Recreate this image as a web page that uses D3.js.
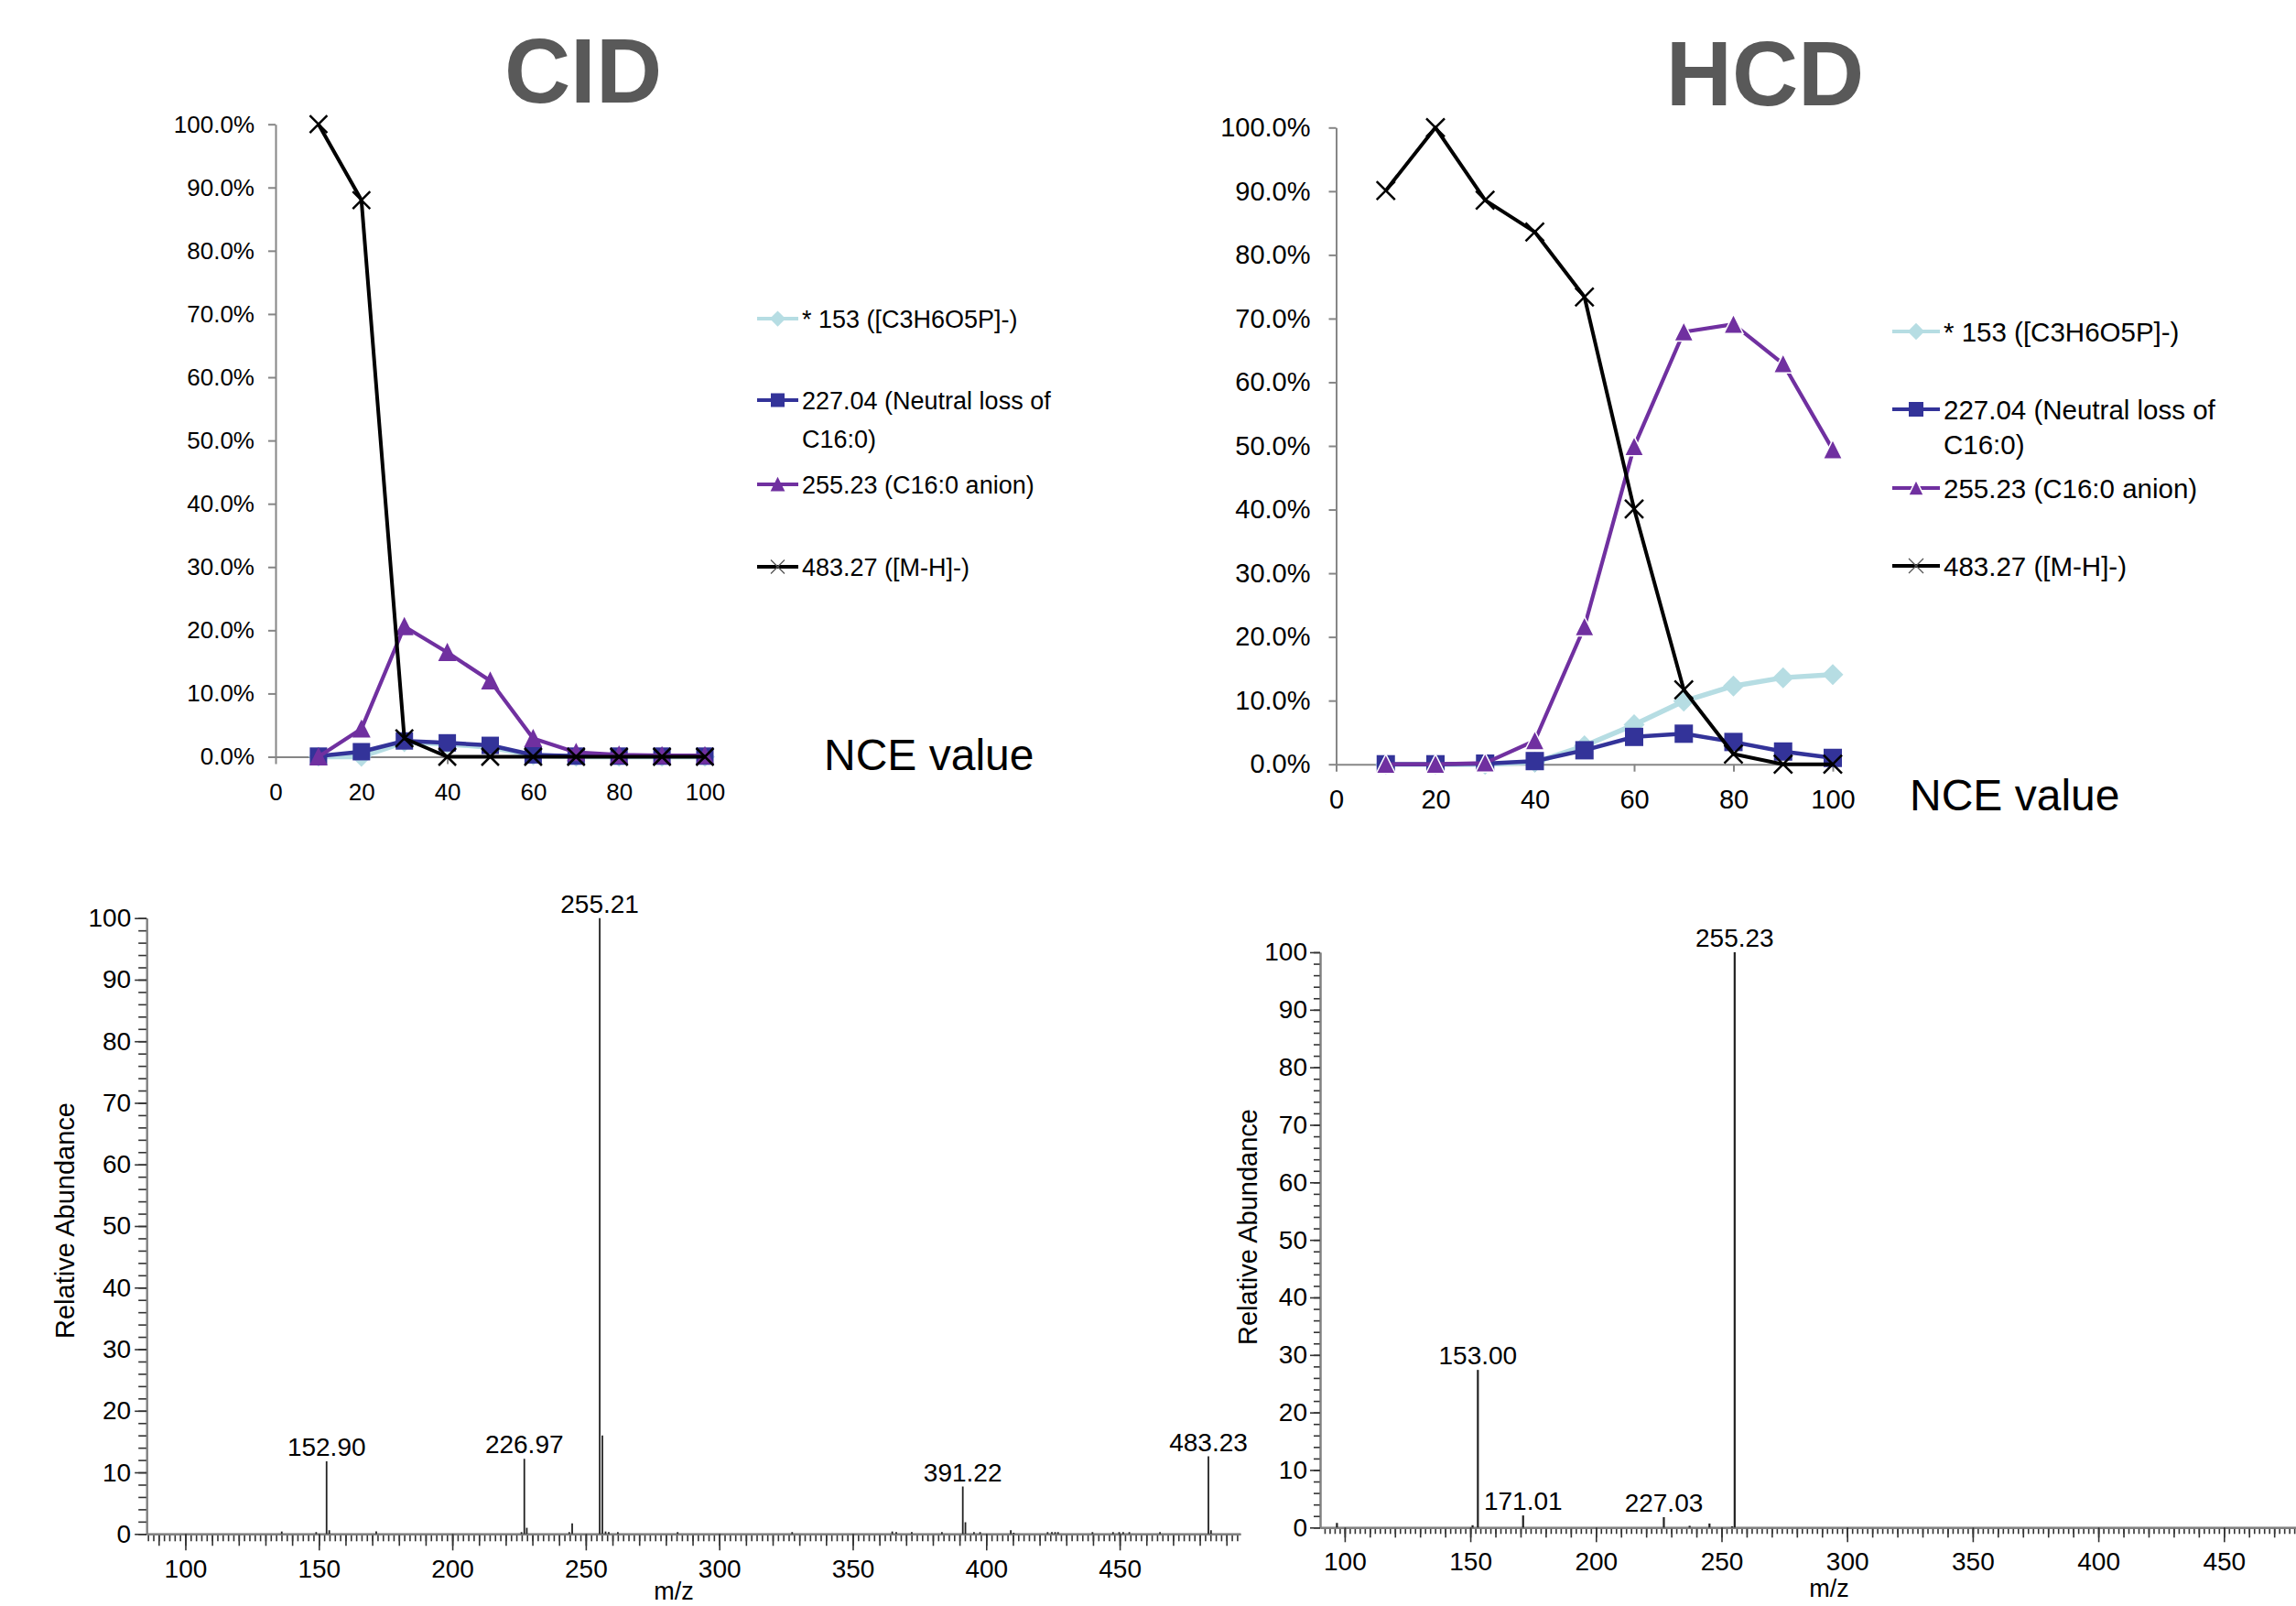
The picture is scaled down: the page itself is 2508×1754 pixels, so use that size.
<!DOCTYPE html>
<html>
<head>
<meta charset="utf-8">
<script src="https://cdn.jsdelivr.net/npm/d3@7"></script>
<style>
  body { margin: 0; background: #fff; }
  svg { display: block; font-family: "Liberation Sans", Arial, sans-serif; }
</style>
</head>
<body>
<svg id="figure" width="2508" height="1754"></svg>
<script>
// breakdown curves (% of total ion signal vs NCE)
const nce = [10, 20, 30, 40, 50, 60, 70, 80, 90, 100]
const nceTicks = [0, 20, 40, 60, 80, 100]
const percentTicks = [0, 10, 20, 30, 40, 50, 60, 70, 80, 90, 100]
const ionNames = ['* 153 ([C3H6O5P]-)', '227.04 (Neutral loss of|C16:0)', '255.23 (C16:0 anion)', '483.27 ([M-H]-)']

const cid153 = [0, 0, 2.3, 2.0, 1.5, 0.2, 0, 0, 0, 0]
const cid227 = [0.1, 0.8, 2.5, 2.2, 1.8, 0.3, 0.1, 0.1, 0.1, 0.1]
const cid255 = [0, 4.4, 20.6, 16.5, 12.0, 2.9, 0.7, 0.3, 0.2, 0.2]
const cid483 = [100, 88, 2.9, 0, 0, 0, 0, 0, 0, 0]

const hcd153 = [0, 0, 0, 0.3, 2.9, 6.2, 9.9, 12.3, 13.6, 14.1]
const hcd227 = [0, 0, 0.1, 0.5, 2.2, 4.3, 4.8, 3.5, 2.0, 1.0]
const hcd255 = [0, 0, 0.2, 3.7, 21.6, 49.9, 67.9, 69.1, 62.9, 49.4]
const hcd483 = [90.1, 100, 88.6, 83.6, 73.4, 40.1, 11.7, 1.6, 0, 0]

// MS/MS spectra (m/z, relative abundance)
const cidMz = [136.1, 149.0, 152.90, 153.9, 171.5, 225.9, 226.97, 227.9, 243.8, 244.9, 255.21, 256.2, 257.4, 258.6, 262.0,
  284.4, 327.3, 364.8, 366.3, 372.1, 383.4, 391.22, 392.2, 395.4, 397.7, 409.2, 410.3, 423.0, 424.6, 425.8, 426.9,
  439.8, 447.5, 449.8, 451.3, 453.6, 465.1, 483.23, 484.2]
const cidAbundance = [0.4, 0.3, 11.8, 0.6, 0.4, 0.3, 12.2, 1.0, 0.3, 1.7, 100, 16.0, 0.4, 0.3, 0.3,
  0.3, 0.3, 0.4, 0.3, 0.3, 0.3, 7.7, 1.9, 0.3, 0.3, 0.6, 0.2, 0.3, 0.3, 0.3, 0.3,
  0.3, 0.3, 0.3, 0.3, 0.3, 0.3, 12.6, 0.6]
const cidLabelMz = [152.90, 226.97, 255.21, 391.22, 483.23]

const hcdMz = [96.9, 150.9, 153.00, 171.01, 227.03, 237.3, 245.2, 254.2, 255.23]
const hcdAbundance = [0.8, 0.4, 27.4, 2.1, 1.8, 0.3, 0.7, 0.2, 100]
const hcdLabelMz = [153.00, 171.01, 227.03, 255.23]

const mzTicks = [100, 150, 200, 250, 300, 350, 400, 450]
const abundanceTicks = [0, 10, 20, 30, 40, 50, 60, 70, 80, 90, 100]

const svg = d3.select('#figure')

const seriesStyle = [
  {color: '#b6dde3', marker: 'diamond', width: 5.5},
  {color: '#333399', marker: 'square', width: 4.5},
  {color: '#7030a0', marker: 'triangle', width: 4.2},
  {color: '#000000', marker: 'cross', width: 4}
]

const markerPath = {
  diamond: r => `M0,${-r * 1.15}L${r * 1.15},0L0,${r * 1.15}L${-r * 1.15},0Z`,
  square: r => `M${-r},${-r}H${r}V${r}H${-r}Z`,
  triangle: r => `M0,${-r * 1.1}L${r * 1.05},${r}L${-r * 1.05},${r}Z`,
  cross: r => `M${-r},${-r}L${r},${r}M${-r},${r}L${r},${-r}`
}

function styleMarker(sel, st, outline){
  if (st.marker === 'cross') {
    sel.attr('fill', 'none').attr('stroke', st.color).attr('stroke-width', 2.5)
  } else {
    sel.attr('fill', st.color)
      .attr('stroke', outline && st.marker === 'triangle' ? '#fff' : 'none')
      .attr('stroke-width', 1.5)
  }
}

function drawCurves(p, series){
  const g = svg.append('g')
  const x = d3.scaleLinear().domain([0, 100]).range([p.left, p.right])
  const y = d3.scaleLinear().domain([0, 100]).range([p.bottom, p.top])

  g.append('g').attr('transform', `translate(${p.left},0)`)
    .call(d3.axisLeft(y).tickValues(percentTicks).tickSize(8).tickSizeOuter(0)
      .tickPadding(p.yPad).tickFormat(d => d.toFixed(1) + '%'))
  g.append('g').attr('transform', `translate(0,${p.bottom})`)
    .call(d3.axisBottom(x).tickValues(nceTicks).tickSize(8).tickSizeOuter(0).tickPadding(p.xPad))
  g.selectAll('.domain, .tick line').attr('stroke', '#868686').attr('stroke-width', 2)
  g.selectAll('.tick text').attr('font-size', p.font).attr('font-family', null).attr('fill', '#000')

  series.forEach((vals, i) => {
    const st = seriesStyle[i]
    const pts = nce.map((n, j) => [x(n), y(vals[j])])
    g.append('path').attr('d', d3.line()(pts)).attr('fill', 'none')
      .attr('stroke', st.color).attr('stroke-width', st.width).attr('stroke-linejoin', 'round')
    g.selectAll(null).data(pts).join('path')
      .attr('transform', d => `translate(${d})`)
      .attr('d', markerPath[st.marker](p.marker))
      .call(styleMarker, st, p.outline)
  })

  // legend
  ionNames.forEach((name, i) => {
    const st = seriesStyle[i]
    const ly = p.legendRows[i]
    g.append('line').attr('x1', p.legendX[0]).attr('x2', p.legendX[1]).attr('y1', ly).attr('y2', ly)
      .attr('stroke', st.color).attr('stroke-width', 4)
    const m = g.append('path').attr('transform', `translate(${(p.legendX[0] + p.legendX[1]) / 2},${ly})`)
      .attr('d', markerPath[st.marker](p.legendMarker))
    if (st.marker === 'cross') m.attr('fill', 'none').attr('stroke', '#555').attr('stroke-width', 1.3)
    else styleMarker(m, st, p.outline)
    const t = g.append('text').attr('x', p.legendX[1] + 4).attr('y', ly).attr('font-size', p.legendFont)
    name.split('|').forEach((line, k) => {
      t.append('tspan').attr('x', p.legendX[1] + 4).attr('dy', k === 0 ? '0.36em' : p.legendLineGap).text(line)
    })
  })

  svg.append('text').attr('x', p.titleX).attr('y', p.titleY).attr('text-anchor', 'middle')
    .attr('font-size', 100).attr('font-weight', 'bold').attr('fill', '#595959').text(p.title)
  svg.append('text').attr('x', p.nceX).attr('y', p.nceY).attr('font-size', 48).text('NCE value')
}

function drawSpectrum(p, mz, abundance, labelMz){
  const g = svg.append('g')
  const x = d3.scaleLinear().domain(p.mzRange).range([p.left, p.right])
  const y = d3.scaleLinear().domain([0, 100]).range([p.bottom, p.top])
  const inside = v => v >= p.mzRange[0] && v <= p.mzRange[1]

  // tick layers: minor, medium, major
  g.append('g').attr('transform', `translate(${p.left},0)`)
    .call(d3.axisLeft(y).tickValues(d3.range(0, 101, 2)).tickSize(p.yMinor).tickSizeOuter(0).tickFormat(''))
  g.append('g').attr('transform', `translate(0,${p.bottom})`)
    .call(d3.axisBottom(x).tickValues(d3.range(86, 500, 2).filter(inside)).tickSize(p.xTicks[0]).tickSizeOuter(0).tickFormat(''))
  g.append('g').attr('transform', `translate(0,${p.bottom})`)
    .call(d3.axisBottom(x).tickValues(d3.range(90, 500, 10).filter(inside)).tickSize(p.xTicks[1]).tickSizeOuter(0).tickFormat(''))
  g.append('g').attr('transform', `translate(${p.left},0)`)
    .call(d3.axisLeft(y).tickValues(abundanceTicks).tickSize(p.yMajor).tickSizeOuter(0).tickPadding(p.yPad))
  g.append('g').attr('transform', `translate(0,${p.bottom})`)
    .call(d3.axisBottom(x).tickValues(mzTicks).tickSize(p.xTicks[2]).tickSizeOuter(0).tickPadding(p.xPad))
  g.selectAll('.tick line').attr('stroke', '#333').attr('stroke-width', 1.6)
  g.selectAll('.domain').attr('stroke', '#808080').attr('stroke-width', 2)
  g.selectAll('.tick text').attr('font-size', 28).attr('font-family', null).attr('fill', '#000')

  g.selectAll('line.peak').data(mz.map((m, i) => [m, abundance[i]])).join('line')
    .attr('class', 'peak')
    .attr('x1', d => x(d[0])).attr('x2', d => x(d[0]))
    .attr('y1', y(0)).attr('y2', d => y(d[1]))
    .attr('stroke', '#222').attr('stroke-width', p.peakWidth)

  g.selectAll('text.peak-label').data(labelMz).join('text')
    .attr('class', 'peak-label')
    .attr('x', d => x(d)).attr('y', d => y(abundance[mz.indexOf(d)]) - 6)
    .attr('text-anchor', 'middle').attr('font-size', 28)
    .text(d => d.toFixed(2))

  g.append('text').attr('transform', `translate(${p.yTitle[0]},${p.yTitle[1]}) rotate(-90)`)
    .attr('text-anchor', 'middle').attr('font-size', 29).text('Relative Abundance')
  g.append('text').attr('x', p.xTitle[0]).attr('y', p.xTitle[1])
    .attr('text-anchor', 'middle').attr('font-size', 27).text('m/z')
}

drawCurves({
  title: 'CID', titleX: 637, titleY: 112, nceX: 900, nceY: 841,
  left: 301, right: 770, top: 135.7, bottom: 826.5,
  font: 26, yPad: 15, xPad: 21, marker: 9.5, outline: false,
  legendX: [827, 872], legendRows: [348, 437, 529, 619], legendFont: 27, legendLineGap: 42, legendMarker: 7.5
}, [cid153, cid227, cid255, cid483])

drawCurves({
  title: 'HCD', titleX: 1928, titleY: 115, nceX: 2086, nceY: 885,
  left: 1459.5, right: 2002, top: 139.3, bottom: 834.7,
  font: 29, yPad: 20, xPad: 20, marker: 10, outline: true,
  legendX: [2067, 2119], legendRows: [362, 447, 533, 618], legendFont: 29.5, legendLineGap: 38, legendMarker: 8
}, [hcd153, hcd227, hcd255, hcd483])

drawSpectrum({
  mzRange: [85.5, 495.2], left: 160.2, right: 1354.9, top: 1002.7, bottom: 1675.3,
  yMajor: 13, yMinor: 9, yPad: 4, xTicks: [8, 13, 18], xPad: 9.5, peakWidth: 1.8,
  yTitle: [81, 1333], xTitle: [736, 1747]
}, cidMz, cidAbundance, cidLabelMz)

drawSpectrum({
  mzRange: [90.2, 500], left: 1442, right: 2566.5, top: 1040, bottom: 1668.3,
  yMajor: 11, yMinor: 7, yPad: 3, xTicks: [7, 11, 16], xPad: 10.5, peakWidth: 2.2,
  yTitle: [1373, 1340], xTitle: [1998, 1744]
}, hcdMz, hcdAbundance, hcdLabelMz)
</script>
</body>
</html>
